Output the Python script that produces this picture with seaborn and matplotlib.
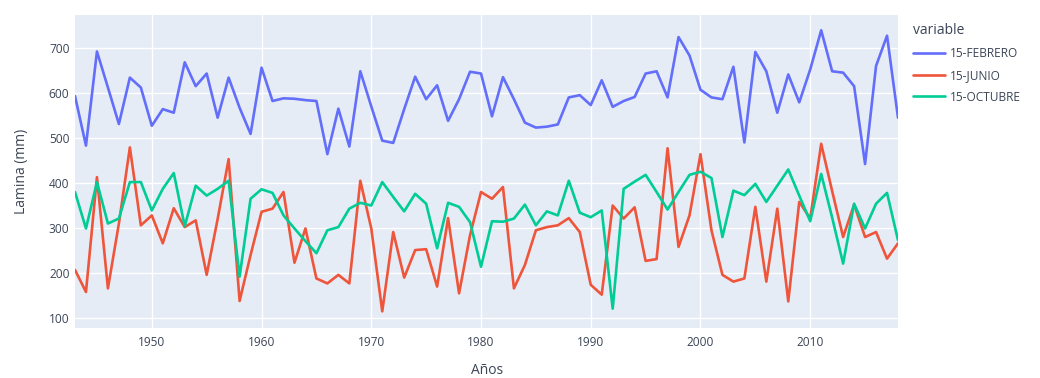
import numpy as np
import pandas as pd
import matplotlib
matplotlib.use("Agg")
import matplotlib.pyplot as plt
import seaborn as sns

# Annual water depth (mm) on three reference dates
years = list(range(1943, 2019))

febrero = [593, 483, 692, 612, 531, 634, 612, 527, 564, 556, 668, 615, 643, 545, 634, 567,
           509, 656, 582, 588, 587, 584, 582, 464, 565, 481, 648, 570, 494, 489, 564, 636,
           586, 617, 538, 586, 647, 643, 548, 635, 586, 534, 523, 525, 530, 590, 595, 573,
           628, 569, 582, 591, 643, 648, 590, 724, 683, 607, 590, 586, 658, 490, 691, 648,
           556, 641, 579, 652, 739, 648, 645, 615, 442, 660, 727, 545]

junio = [207, 158, 413, 166, 310, 479, 306, 328, 266, 344, 302, 317, 196, 320, 453, 138,
         240, 336, 343, 380, 223, 299, 188, 177, 196, 177, 405, 299, 115, 291, 190, 251,
         253, 170, 322, 155, 284, 380, 365, 391, 166, 218, 295, 302, 306, 322, 291, 174,
         152, 350, 321, 346, 227, 231, 477, 258, 328, 464, 295, 196, 181, 188, 347, 181,
         343, 137, 358, 321, 487, 382, 280, 352, 280, 291, 232, 266]

octubre = [380, 299, 402, 310, 321, 402, 402, 339, 387, 422, 304, 394, 372, 387, 405, 192,
           365, 386, 378, 328, 299, 271, 244, 295, 302, 343, 356, 350, 402, 369, 337, 376,
           354, 255, 356, 347, 313, 214, 315, 314, 321, 352, 306, 337, 328, 405, 334, 324,
           339, 121, 387, 403, 418, 380, 341, 380, 418, 425, 411, 280, 383, 373, 398, 358,
           394, 430, 372, 315, 420, 323, 221, 354, 299, 354, 378, 273]

series_names = ["15-FEBRERO", "15-JUNIO", "15-OCTUBRE"]
palette = ["#636EFA", "#EF553B", "#00CC96"]
y_ticks = [100, 200, 300, 400, 500, 600, 700]
x_ticks = [1950, 1960, 1970, 1980, 1990, 2000, 2010]

wide = pd.DataFrame({"Años": years,
                     series_names[0]: febrero,
                     series_names[1]: junio,
                     series_names[2]: octubre})
df = wide.melt(id_vars="Años", var_name="variable", value_name="Lamina (mm)")

sns.set_theme(style="white")
plt.rcParams["font.family"] = ["Open Sans", "DejaVu Sans"]
text_color = "#3b4556"

fig = plt.figure(figsize=(10.4, 3.78), dpi=100)
ax = fig.add_axes([75 / 1040, 1 - 328 / 378, 823 / 1040, 313 / 378])
ax.set_facecolor("#E5ECF6")

sns.lineplot(data=df, x="Años", y="Lamina (mm)", hue="variable",
             palette=palette, linewidth=1.9, ax=ax, zorder=3)

ax.set_xlim(1943, 2018)
ax.set_ylim(78, 773)
ax.set_xticks(x_ticks)
ax.set_yticks(y_ticks)
ax.grid(True, color="white", linewidth=1.0, zorder=0)
ax.set_axisbelow(True)
for s in ax.spines.values():
    s.set_visible(False)
ax.tick_params(axis="both", length=0, labelsize=8.6, labelcolor=text_color)
ax.tick_params(axis="x", pad=6)
ax.tick_params(axis="y", pad=4)

ax.set_xlabel("Años", fontsize=10, color=text_color)
ax.set_ylabel("Lamina (mm)", fontsize=10, color=text_color)
ax.xaxis.label.set_va("center")
ax.yaxis.label.set_va("center")
ax.xaxis.set_label_coords(0.5006, -(370 - 328) / 313)
ax.yaxis.set_label_coords((21 - 75) / 823, 0.5)

handles, labels = ax.get_legend_handles_labels()
leg = ax.legend(handles, labels, title="variable", loc="upper left",
                bbox_to_anchor=(908 / 1040, 1 - 18 / 378),
                bbox_transform=fig.transFigure, frameon=False,
                fontsize=8.6, title_fontsize=10, handlelength=2.7,
                handletextpad=0.45, labelspacing=0.75, borderaxespad=0,
                alignment="left")
leg.get_title().set_color(text_color)
for t in leg.get_texts():
    t.set_color(text_color)
for h in leg.legend_handles:
    h.set_linewidth(1.9)

fig.savefig("out.png", dpi=100, facecolor="white")
